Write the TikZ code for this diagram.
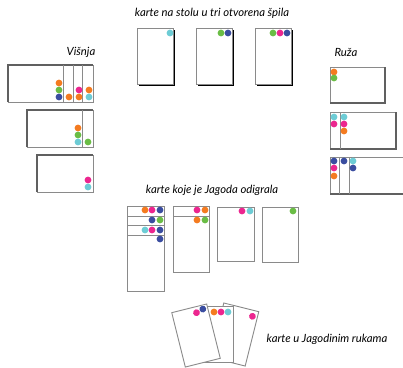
\documentclass[tikz,border=0pt]{standalone}
\usepackage{fontspec}
\setmainfont{Lato}
\definecolor{cO}{HTML}{F47B20}
\definecolor{cG}{HTML}{6ABD45}
\definecolor{cB}{HTML}{3A4DA0}
\definecolor{cP}{HTML}{EC268F}
\definecolor{cC}{HTML}{6DCCD5}
\definecolor{edge}{HTML}{8A8A8A}
\definecolor{darkedge}{HTML}{606060}
\newcommand\dt[3]{\fill[#1] (#2,#3) circle (3.4);}
\begin{document}
\begin{tikzpicture}[x=1pt,y=-1pt,
  card/.style={draw=edge, line width=0.9pt, fill=white},
  sep/.style={draw=edge, line width=0.8pt},
  shadow/.style={draw=black, line width=1.8pt},
  dshadow/.style={draw=darkedge, line width=1.1pt},
  lbl/.style={font=\itshape\fontsize{11.3}{13}\selectfont, inner sep=0pt}]
\useasboundingbox (0,0) rectangle (403,367);
\fill[white] (0,0) rectangle (403,367);

% titles
\node[lbl] (t1) at (212,13) {karte na stolu u tri otvorena špila};
\node[lbl] (t2) at (81,52) {Višnja};
\node[lbl] (t3) at (346,52) {Ruža};
\node[lbl] (t4) at (212,190) {karte koje je Jagoda odigrala};
\node[lbl] (t5) at (327,339) {karte u Jagodinim rukama};

% table cards
\foreach \x in {137,196,255}{
  \draw[shadow] (\x+1.5,85) -- (\x+37.5,85) -- (\x+37.5,30);
  \draw[card] (\x,28) rectangle (\x+36,84);
}
\dt{cC}{170}{33}
\dt{cG}{221}{33}\dt{cB}{228}{33}
\dt{cG}{273}{33}\dt{cP}{280}{33}\dt{cB}{287}{33}

% Visnja
\draw[card] (8,65) rectangle (93,102);
\draw[dshadow] (8,102) -- (8,65) -- (93,65);
\draw[sep] (63,65) -- (63,102) (73,65) -- (73,102) (82,65) -- (82,102);
\dt{cO}{59}{83}\dt{cG}{59}{90}\dt{cB}{59}{97}
\dt{cO}{69}{97}
\dt{cP}{79}{90}\dt{cO}{79}{97}
\dt{cO}{89}{90}\dt{cC}{89}{97}

\draw[card] (27,110) rectangle (93,147);
\draw[dshadow] (27,147) -- (27,110) -- (93,110);
\draw[sep] (82,110) -- (82,147);
\dt{cO}{78}{128}\dt{cG}{78}{135}\dt{cC}{78}{142}
\dt{cG}{88}{142}

\draw[card] (37,155) rectangle (93,192);
\draw[dshadow] (37,192) -- (37,155) -- (93,155);
\dt{cP}{88}{180}\dt{cC}{88}{187}

% Ruza
\draw[card] (330,67) rectangle (385,103);
\draw[dshadow] (330,103) -- (385,103) -- (385,67);
\dt{cO}{334}{72}\dt{cG}{334}{78}

\draw[card] (330,112) rectangle (396,149);
\draw[dshadow] (330,149) -- (396,149) -- (396,112);
\draw[sep] (340,112) -- (340,149);
\dt{cC}{334}{117}\dt{cP}{334}{124}
\dt{cC}{344}{117}\dt{cP}{344}{124}\dt{cO}{344}{131}

\draw[card] (330,157) rectangle (405,194);
\draw[dshadow] (330,194) -- (405,194);
\draw[sep] (339,157) -- (339,194) (349,157) -- (349,194);
\dt{cB}{334}{161}\dt{cP}{334}{168}\dt{cO}{334}{176}
\dt{cB}{344}{161}
\dt{cC}{353}{161}\dt{cB}{353}{168}

% played cards
\draw[card] (127,206) rectangle (164,291);
\draw[sep] (127,216) -- (164,216) (127,225) -- (164,225) (127,235) -- (164,235);
\dt{cO}{145}{210}\dt{cP}{152}{210}\dt{cB}{160}{210}
\dt{cB}{152}{220}\dt{cG}{160}{220}
\dt{cC}{145}{230}\dt{cP}{152}{230}\dt{cB}{160}{230}
\dt{cB}{160}{239}

\draw[card] (173,206) rectangle (209,272);
\draw[sep] (173,216) -- (209,216);
\dt{cP}{197}{210}\dt{cO}{205}{210}
\dt{cO}{197}{220}\dt{cG}{205}{220}

\draw[card] (217,207) rectangle (254,261);
\dt{cP}{242}{211}\dt{cC}{250}{211}

\draw[card] (262,207) rectangle (298,262);
\dt{cG}{293}{211}

% hand cards
\begin{scope}[shift={(234.5,334.5)}, rotate=-14]
  \draw[card] (-18,-28) rectangle (18,28);
  \dt{cP}{13}{-22}
\end{scope}
\draw[card] (197,306) rectangle (233,362);
\dt{cO}{214}{312}\dt{cP}{221}{312}\dt{cC}{228}{312}
\begin{scope}[shift={(196,335.5)}, rotate=14]
  \draw[card] (-18,-28) rectangle (18,28);
  \dt{cP}{6}{-22}\dt{cB}{13}{-24}
\end{scope}
\end{tikzpicture}
\end{document}
